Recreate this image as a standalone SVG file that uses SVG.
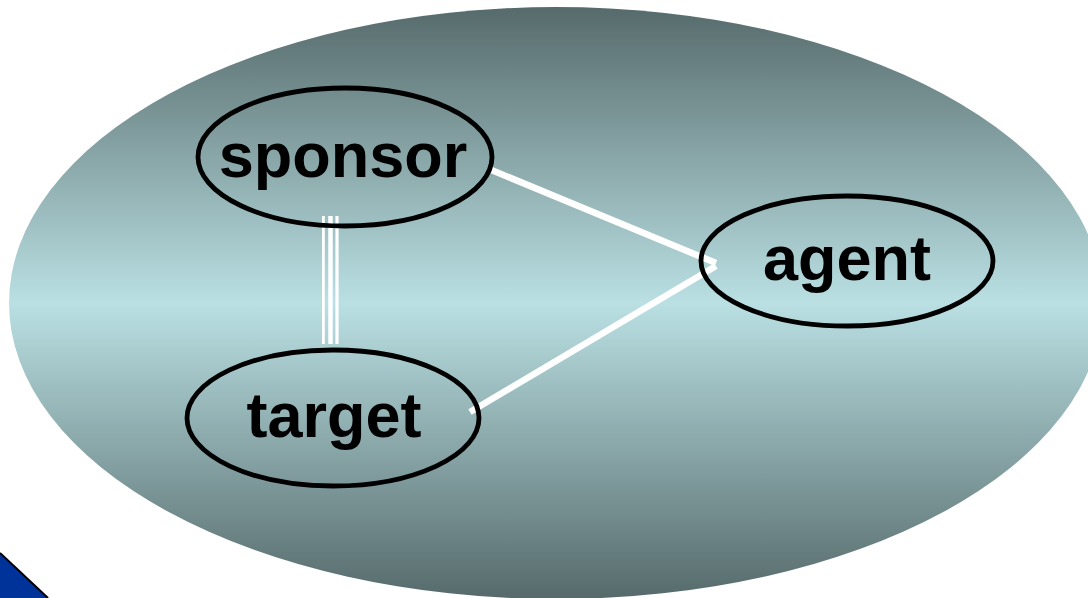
<svg xmlns="http://www.w3.org/2000/svg" width="1088" height="598" viewBox="0 0 1088 598">
<defs>
<linearGradient id="bg" x1="0" y1="7" x2="0" y2="599" gradientUnits="userSpaceOnUse">
<stop offset="0" stop-color="#566a6b"/>
<stop offset="0.5" stop-color="#bae0e3"/>
<stop offset="1" stop-color="#566a6b"/>
</linearGradient>
<style>
.node{fill:none;stroke:#000;stroke-width:4.8}
.lbl{font-family:"Liberation Sans",Arial,sans-serif;font-weight:bold;font-size:63px;fill:#000;text-anchor:middle}
.edge{stroke:#fff;fill:none}
</style>
</defs>
<rect width="1088" height="598" fill="#fff"/>
<ellipse cx="556" cy="303" rx="547" ry="296" fill="url(#bg)"/>
<polygon points="0,553 48,598 0,598" fill="#003399"/>
<line x1="0" y1="553" x2="48" y2="598" stroke="#000" stroke-width="2"/>
<g id="connectors">
<line class="edge" x1="489" y1="169" x2="716" y2="263" stroke-width="6.5"/>
<line class="edge" x1="470" y1="412" x2="716" y2="266" stroke-width="6.5"/>
<line class="edge" x1="323.4" y1="216" x2="323.4" y2="344" stroke-width="2.8"/>
<line class="edge" x1="330.5" y1="216" x2="330.5" y2="344" stroke-width="4.5"/>
<line class="edge" x1="337" y1="216" x2="337" y2="344" stroke-width="3.2"/>
</g>
<g id="sponsor">
<ellipse class="node" cx="345" cy="157" rx="147" ry="69"/>
<text class="lbl" x="343" y="177">sponsor</text>
</g>
<g id="target">
<ellipse class="node" cx="333" cy="418" rx="146" ry="68"/>
<text class="lbl" x="334" y="437">target</text>
</g>
<g id="agent">
<ellipse class="node" cx="847" cy="261" rx="146" ry="65"/>
<text class="lbl" x="847" y="280">agent</text>
</g>
</svg>
